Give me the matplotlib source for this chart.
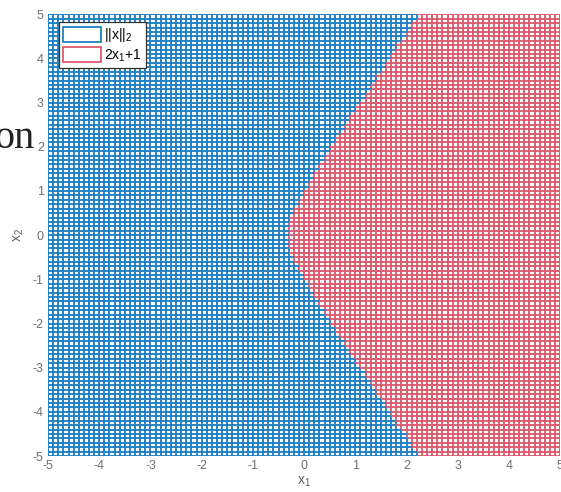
import numpy as np
import matplotlib
matplotlib.use('Agg')
import matplotlib.pyplot as plt
from matplotlib.collections import LineCollection
import matplotlib.patches as patches

plt.rcParams['font.family'] = ['Liberation Sans', 'DejaVu Sans']
plt.rcParams['mathtext.default'] = 'regular'
plt.rcParams['axes.unicode_minus'] = False

# mesh grid (step 0.1 over [-5, 5])
x1_grid = np.linspace(-5, 5, 101)
x2_grid = np.linspace(-5, 5, 101)
tick_vals = [-5, -4, -3, -2, -1, 0, 1, 2, 3, 4, 5]
legend_labels = [r'||x||$_2$', r'2x$_1$+1']

BLUE = '#1f80c4'
RED = '#dc5a70'


def surf_norm(a, b):
    return np.sqrt(a ** 2 + b ** 2)


def surf_lin(a, b):
    return 2 * a + 1


def top_color(a, b):
    # seen from above: whichever surface is higher
    return BLUE if surf_norm(a, b) >= surf_lin(a, b) else RED


segs, cols = [], []
for xv in x1_grid:
    for j in range(len(x2_grid) - 1):
        y0, y1 = x2_grid[j], x2_grid[j + 1]
        segs.append([(xv, y0), (xv, y1)])
        cols.append(top_color(xv, (y0 + y1) / 2))
for yv in x2_grid:
    for i in range(len(x1_grid) - 1):
        a0, a1 = x1_grid[i], x1_grid[i + 1]
        segs.append([(a0, yv), (a1, yv)])
        cols.append(top_color((a0 + a1) / 2, yv))

fig = plt.figure(figsize=(5.61, 4.92), dpi=100)
ax = fig.add_axes([0.0856, 0.073, 0.913, 0.898])

lc = LineCollection(segs, colors=cols, linewidths=1.35)
ax.add_collection(lc)
ax.set_xlim(-5, 5)
ax.set_ylim(-5, 5)

ax.set_xticks(tick_vals)
ax.set_yticks(tick_vals)
ax.tick_params(length=0, labelsize=9, labelcolor='#707070', pad=3)
for s in ax.spines.values():
    s.set_visible(False)

ax.set_xlabel(r'x$_1$', fontsize=10, color='#606060', labelpad=2)
ax.set_ylabel(r'x$_2$', fontsize=10, color='#606060', labelpad=5)

handles = [
    patches.Rectangle((0, 0), 1, 1, facecolor='white', edgecolor=BLUE, linewidth=1.3, label=legend_labels[0]),
    patches.Rectangle((0, 0), 1, 1, facecolor='white', edgecolor=RED, linewidth=1.3, label=legend_labels[1]),
]
leg = ax.legend(handles=handles, loc='upper left', bbox_to_anchor=(0.022, 0.982),
                fontsize=10, frameon=True, fancybox=False, framealpha=1,
                edgecolor='#333333', borderpad=0.3, handlelength=2.7,
                handleheight=1.3, handletextpad=0.25, labelspacing=0.2,
                borderaxespad=0)
leg.get_frame().set_linewidth(0.9)

# fragment of the surrounding page text
fig.text(35 / 561, 1 - 148 / 492, 'on', family='Liberation Serif', fontsize=29,
         color='#222222', ha='right', va='baseline')

fig.savefig('out.png', dpi=100)
